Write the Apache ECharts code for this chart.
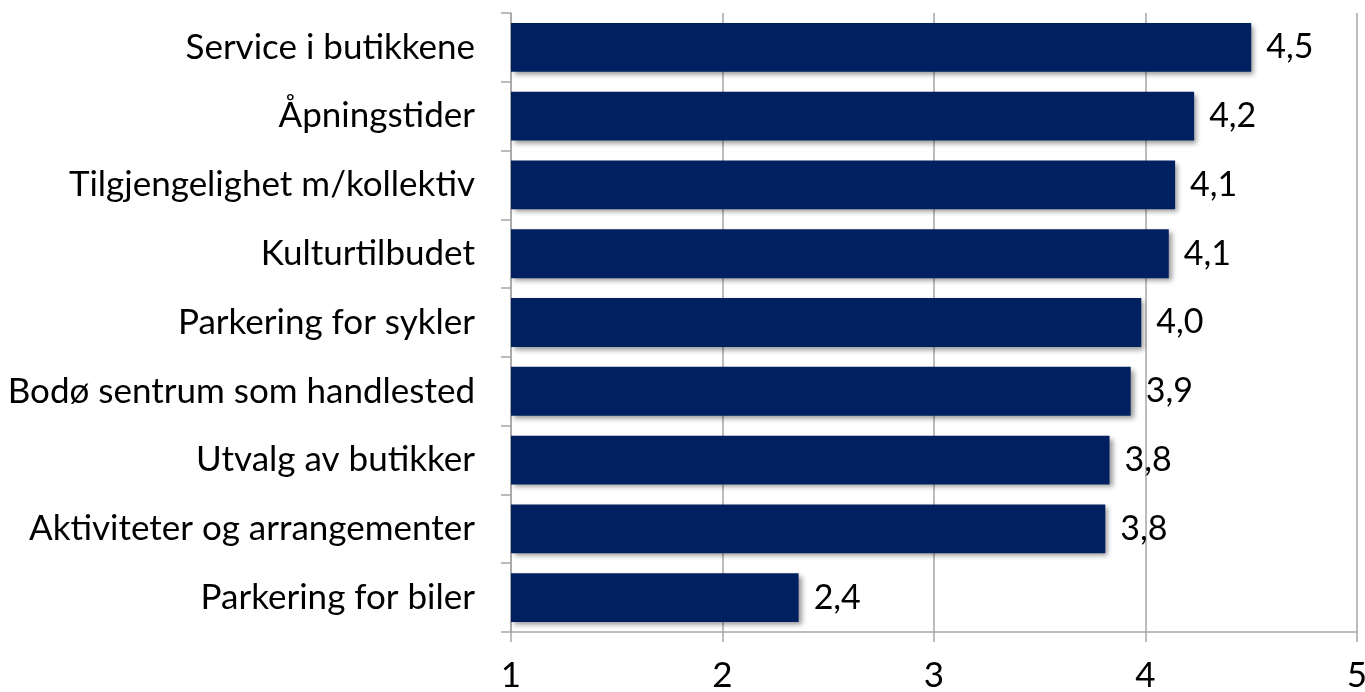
<!DOCTYPE html>
<html>
<head>
<meta charset="utf-8">
<script src="https://cdn.jsdelivr.net/npm/echarts@6/dist/echarts.min.js"></script>
<style>
  html, body { margin: 0; padding: 0; background: #fff; }
  #chart { width: 1365px; height: 692px; }
</style>
</head>
<body>
<div id="chart"></div>
<script>
// Satisfaction scores (scale 1–5), listed top to bottom
const categories = [
  'Service i butikkene',
  'Åpningstider',
  'Tilgjengelighet m/kollektiv',
  'Kulturtilbudet',
  'Parkering for sykler',
  'Bodø sentrum som handlested',
  'Utvalg av butikker',
  'Aktiviteter og arrangementer',
  'Parkering for biler'
];
const scores = [4.50, 4.23, 4.14, 4.11, 3.98, 3.93, 3.83, 3.81, 2.36];
const axisTicks = [1, 2, 3, 4, 5];

const font = 'Lato, "Open Sans", sans-serif';
const gray = '#a6a6a6';

const chart = echarts.init(document.getElementById('chart'), null, { renderer: 'canvas' });
chart.setOption({
  animation: false,
  grid: {
    left: 511, right: 8, top: 13, bottom: 60,
    containLabel: false,
    outerBoundsMode: 'none'
  },
  xAxis: {
    type: 'value',
    min: axisTicks[0],
    max: axisTicks[axisTicks.length - 1],
    interval: 1,
    axisLine: { show: true, lineStyle: { color: gray, width: 1.5 } },
    axisTick: { show: true, length: 10, lineStyle: { color: gray, width: 1.5 } },
    splitLine: { show: true, lineStyle: { color: gray, width: 1.5 } },
    axisLabel: {
      color: '#000', fontFamily: font, fontSize: 35, margin: 26,
      formatter: v => String(v)
    }
  },
  yAxis: {
    type: 'category',
    data: categories,
    inverse: true,
    axisLine: { show: true, lineStyle: { color: gray, width: 1.5 } },
    axisTick: { show: true, length: 10, lineStyle: { color: gray, width: 1.5 } },
    axisLabel: { color: '#000', fontFamily: font, fontSize: 35, margin: 36 }
  },
  series: [{
    type: 'bar',
    data: scores,
    barCategoryGap: '29%',
    itemStyle: {
      color: '#002060',
      shadowColor: 'rgba(0,0,0,0.4)',
      shadowBlur: 5,
      shadowOffsetX: 3,
      shadowOffsetY: 3
    },
    label: {
      show: true,
      position: 'right',
      distance: 15,
      color: '#000',
      fontFamily: font,
      fontSize: 34,
      formatter: p => p.value.toFixed(1).replace('.', ',')
    }
  }]
});
</script>
</body>
</html>
